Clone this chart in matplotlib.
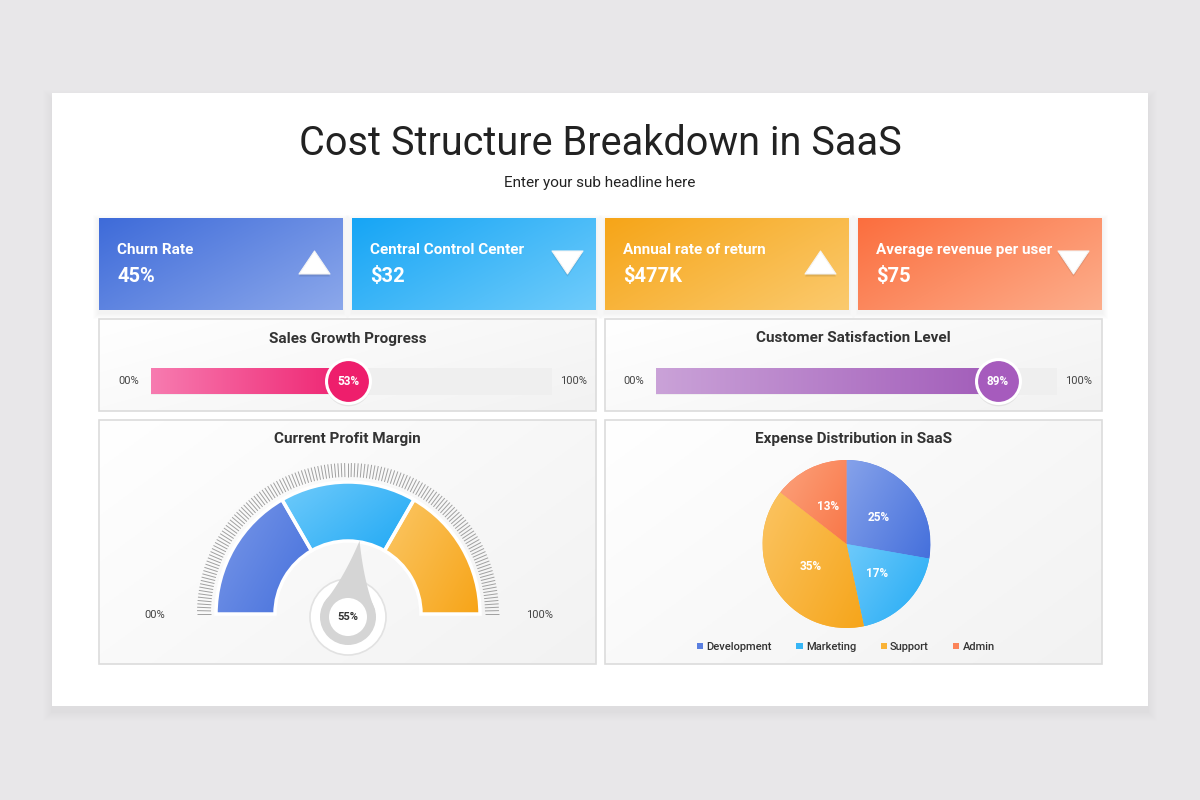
import numpy as np
import matplotlib
matplotlib.use('Agg')
import matplotlib.pyplot as plt
from matplotlib.colors import LinearSegmentedColormap
from matplotlib.patches import Rectangle, Polygon, Circle, Wedge
from matplotlib.collections import LineCollection

plt.rcParams['font.family'] = ['Roboto', 'DejaVu Sans']

# ---- data ----
title = 'Cost Structure Breakdown in SaaS'
subtitle = 'Enter your sub headline here'

kpi_titles = ['Churn Rate', 'Central Control Center', 'Annual rate of return', 'Average revenue per user']
kpi_values = ['45%', '$32', '$477K', '$75']
kpi_up = [True, False, True, False]
kpi_colors = [('#3e6bd9', '#8ca8eb'), ('#16a5f5', '#70ccfb'),
              ('#f6a518', '#fbca6e'), ('#fb6e3e', '#fdae8c')]

progress_titles = ['Sales Growth Progress', 'Customer Satisfaction Level']
progress_values = [53, 89]
progress_colors = [('#f77bb0', '#ee1c6c'), ('#caa2d8', '#a059b8')]
progress_knob = ['#ee1e6c', '#a65bbd']

gauge_title = 'Current Profit Margin'
gauge_bounds = [0, 100 / 3, 200 / 3, 100]
gauge_colors = [('#7a98e8', '#4570dc'), ('#70cbfb', '#1fa8f4'), ('#fbc766', '#f7a417')]
gauge_value = 55

pie_title = 'Expense Distribution in SaaS'
pie_labels = ['Development', 'Marketing', 'Support', 'Admin']
pie_values = [25, 17, 35, 13]
pie_colors = ['#5a7fe0', '#37b6f6', '#f9b236', '#fb8459']
pie_grads = [('#86a2ea', '#4570dc'), ('#6ecafb', '#22aaf4'),
             ('#fbc462', '#f6a51a'), ('#fca27c', '#f97748')]


def grad_fill(ax, patch, c1, c2, mode='diag', z=None):
    cmap = LinearSegmentedColormap.from_list('g', [c1, c2])
    xx, yy = np.meshgrid(np.linspace(0, 1, 200), np.linspace(0, 1, 200))
    t = xx if mode == 'h' else (xx * 0.6 + yy * 0.4)
    bb = patch.get_patch_transform().transform_path(patch.get_path()).get_extents()
    if ax.yaxis_inverted():
        ext = (bb.x0, bb.x1, bb.y1, bb.y0)
    else:
        ext = (bb.x0, bb.x1, bb.y0, bb.y1)
    im = ax.imshow(t, cmap=cmap, vmin=0, vmax=1, extent=ext, origin='upper',
                   aspect='auto', interpolation='bilinear',
                   zorder=z if z is not None else patch.get_zorder() + 0.1)
    im.set_clip_path(patch)
    return im


fig = plt.figure(figsize=(12, 8), dpi=100)
fig.patch.set_facecolor('#e8e7e9')
ax = fig.add_axes([0, 0, 1, 1])
ax.set_xlim(0, 1200)
ax.set_ylim(800, 0)
ax.axis('off')

# white card with soft shadow
for i in range(1, 13):
    ax.add_patch(Rectangle((52 - i, 93 - i + 6), 1096 + 2 * i, 613 + 2 * i,
                           fc='black', ec='none', alpha=0.003 * (13 - i) / 6, zorder=0))
ax.add_patch(Rectangle((52, 93), 1096, 613, fc='white', ec='none', zorder=1))

ax.text(600, 143.5, title, ha='center', va='center', fontsize=28.5, color='#222222', zorder=5)
ax.text(600, 182.5, subtitle, ha='center', va='center', fontsize=11, color='#222222', zorder=5)

# KPI cards
card_x = [99, 352, 605, 858]
for x0, t, v, up, (c1, c2) in zip(card_x, kpi_titles, kpi_values, kpi_up, kpi_colors):
    for i in range(1, 7):
        ax.add_patch(Rectangle((x0 - i, 218 - i + 3), 244 + 2 * i, 92 + 2 * i,
                               fc='black', ec='none', alpha=0.006, zorder=1.5))
    r = Rectangle((x0, 218), 244, 92, fc=c1, ec='none', zorder=2)
    ax.add_patch(r)
    grad_fill(ax, r, c1, c2)
    ax.text(x0 + 18, 250, t, ha='left', va='center', fontsize=11, fontweight='bold',
            color='white', zorder=5)
    ax.text(x0 + 18, 277, v, ha='left', va='center', fontsize=14.5, fontweight='bold',
            color='white', zorder=5)
    cx, cy = x0 + 215.5, 262.5
    if up:
        pts = [(cx - 15.5, cy + 11.5), (cx + 15.5, cy + 11.5), (cx, cy - 11.5)]
    else:
        pts = [(cx - 15.5, cy - 11.5), (cx + 15.5, cy - 11.5), (cx, cy + 11.5)]
    for k in range(1, 4):
        sh = [(px, py + k) for px, py in pts]
        ax.add_patch(Polygon(sh, closed=True, fc='black', ec='none', alpha=0.05, zorder=4))
    ax.add_patch(Polygon(pts, closed=True, fc='white', ec='#f4f4f4', lw=0.8,
                         joinstyle='round', zorder=4.5))

# panels
panels = [(99, 319, 497, 92), (605, 319, 497, 92), (99, 420, 497, 244), (605, 420, 497, 244)]
for (x0, y0, w, h) in panels:
    p = Rectangle((x0, y0), w, h, fc='#f7f7f7', ec='none', zorder=2)
    ax.add_patch(p)
    grad_fill(ax, p, '#ffffff', '#f2f2f2')
    ax.add_patch(Rectangle((x0, y0), w, h, fc='none', ec='#dcdcdc', lw=1.2, zorder=3))

panel_titles = progress_titles + [gauge_title, pie_title]
for (x0, y0, w, h), t in zip(panels, panel_titles):
    ax.text(x0 + w / 2, y0 + 19.5, t, ha='center', va='center', fontsize=11,
            fontweight='bold', color='#333333', zorder=5)

# progress bars
track_left = [150.7, 655.7]
for tl, v, (c1, c2), kc in zip(track_left, progress_values, progress_colors, progress_knob):
    ax.text(tl - 22, 381.5, '00%', ha='center', va='center', fontsize=8, color='#444444', zorder=5)
    ax.text(tl + 423, 381.5, '100%', ha='center', va='center', fontsize=8, color='#444444', zorder=5)
    pax = fig.add_axes([tl / 1200, 1 - 394.5 / 800, 401 / 1200, 27 / 800])
    pax.axis('off')
    pax.barh(0, 100, height=1, color='#efefef', zorder=1)
    bar = pax.barh(0, v, height=1, color='none', zorder=2)[0]
    grad_fill(pax, bar, c1, c2, mode='h')
    kx = v - 3.75
    pax.scatter([kx], [-0.06], s=1080, c='black', alpha=0.07, linewidths=0,
                clip_on=False, zorder=4)
    pax.scatter([kx], [0], s=1000, c=kc, edgecolors='white', linewidths=2.2,
                clip_on=False, zorder=5)
    pax.text(kx, -0.03, f'{v}%', ha='center', va='center', fontsize=8.5, fontweight='bold',
             color='white', zorder=6)
    pax.set_xlim(0, 100)
    pax.set_ylim(-0.5, 0.5)

# gauge
ax.text(155, 614.5, '00%', ha='center', va='center', fontsize=8, color='#444444', zorder=5)
ax.text(540, 614.5, '100%', ha='center', va='center', fontsize=8, color='#444444', zorder=5)
gax = fig.add_axes([190 / 1200, 1 - 665 / 800, 320 / 1200, 210 / 800])
gax.axis('off')
R_out, R_in = 132, 73
for a, b, (c1, c2) in zip(gauge_bounds[:-1], gauge_bounds[1:], gauge_colors):
    th1, th2 = 180 - b * 1.8, 180 - a * 1.8
    w = Wedge((0, 0), R_out, th1, th2, width=R_out - R_in, fc=c2, ec='none', zorder=2)
    gax.add_patch(w)
    grad_fill(gax, w, c1, c2)
    gax.add_patch(Wedge((0, 0), R_out, th1, th2, width=R_out - R_in, fc='none',
                        ec='white', lw=2.5, zorder=3))
ang = np.radians(np.linspace(0, 180, 141))
segs = [[(137 * np.cos(t), 137 * np.sin(t)), (151 * np.cos(t), 151 * np.sin(t))] for t in ang]
gax.add_collection(LineCollection(segs, colors='#a0a0a0', linewidths=0.7, zorder=2))

cy0 = -3
gax.add_patch(Circle((0, cy0), 38, fc='white', ec='#e2e2e2', lw=1.2, zorder=3))
phi = np.radians(180 - gauge_value * 1.8)
tip = np.array([74 * np.cos(phi), 74 * np.sin(phi)])
d = np.hypot(tip[0], tip[1] - cy0)
base_dir = np.arctan2(tip[1] - cy0, tip[0])
alpha = np.arccos(28 / d)
# slightly concave teardrop sides
side = []
for sgn in (1, -1):
    tp = np.array([28 * np.cos(base_dir + sgn * alpha), cy0 + 28 * np.sin(base_dir + sgn * alpha)])
    mid = (tp + tip) / 2
    ctr = np.array([0, cy0])
    bend = (ctr - mid) * 0.18
    q = [(1 - s) ** 2 * tp + 2 * (1 - s) * s * (mid + bend) + s ** 2 * tip
         for s in np.linspace(0, 1, 20)]
    side.append(q)
poly = side[0] + side[1][::-1]
gax.add_patch(Polygon(poly, closed=True, fc='#d5d5d5', ec='none', zorder=4))
gax.add_patch(Circle((0, cy0), 28, fc='#d5d5d5', ec='none', zorder=4))
gax.add_patch(Circle((0, cy0), 19, fc='white', ec='none', zorder=5))
gax.text(0, cy0, f'{gauge_value}%', ha='center', va='center', fontsize=8, fontweight='bold',
         color='#333333', zorder=6)
gax.set_aspect('auto')
gax.set_xlim(-158, 162)
gax.set_ylim(-51, 159)

# pie
pax = fig.add_axes([762 / 1200, 1 - 628 / 800, 169 / 1200, 168 / 800])
wedges, _ = pax.pie(pie_values, colors=pie_colors, startangle=90, counterclock=False,
                    radius=1, wedgeprops=dict(linewidth=0))
for wd, (c1, c2) in zip(wedges, pie_grads):
    grad_fill(pax, wd, c1, c2)
total = sum(pie_values)
start = 90
for v in pie_values:
    mid = np.radians(start - v / total * 180)
    pax.text(0.5 * np.cos(mid), 0.5 * np.sin(mid), f'{v}%', ha='center', va='center',
             fontsize=8.5, fontweight='bold', color='white', zorder=6)
    start -= v / total * 360
pax.set_aspect('equal')
pax.set_xlim(-1.0, 1.0)
pax.set_ylim(-1.0, 1.0)
fig.legend(wedges, pie_labels, loc='center', bbox_to_anchor=(846 / 1200, 1 - 647 / 800),
           ncol=4, frameon=False, handlelength=0.55, handleheight=0.55, handletextpad=0.3,
           columnspacing=2.2, prop=dict(size=8, weight='medium'), labelcolor='#333333')

ax.set_aspect('auto')
ax.set_xlim(0, 1200)
ax.set_ylim(800, 0)

fig.savefig('out.png', dpi=100, facecolor=fig.get_facecolor())
